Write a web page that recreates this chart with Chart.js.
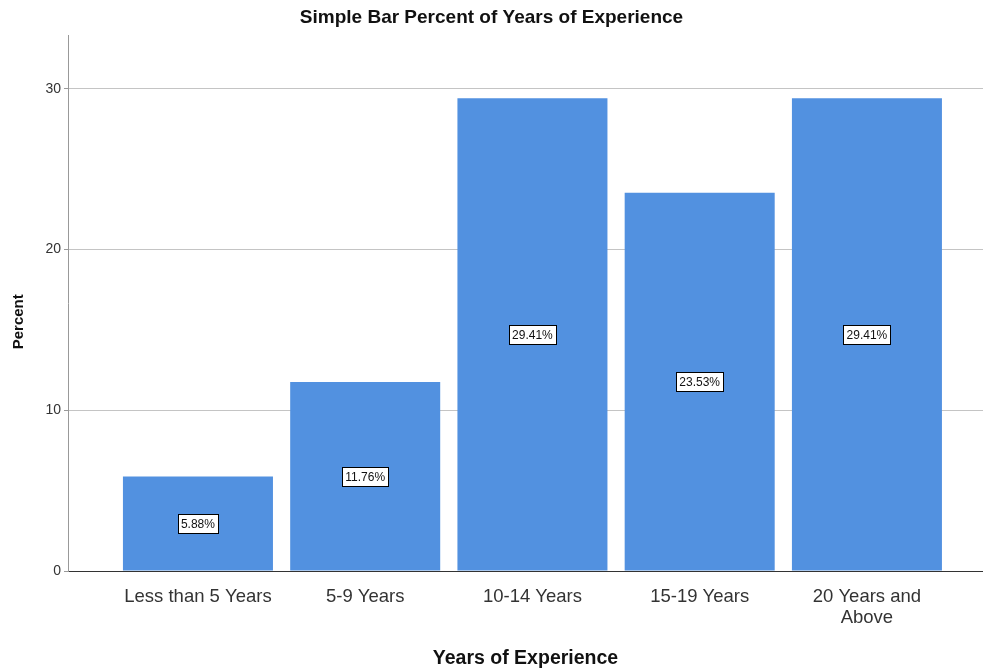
<!DOCTYPE html>
<html>
<head>
<meta charset="utf-8">
<script src="https://cdn.jsdelivr.net/npm/chart.js@4.4.1/dist/chart.umd.min.js"></script>
<style>
  html, body { margin: 0; padding: 0; background: #fff; }
  #wrap { width: 983px; height: 670px; }
</style>
</head>
<body>
<div id="wrap"><canvas id="expChart"></canvas></div>
<script>
"use strict";

var categories = ['Less than 5 Years', '5-9 Years', '10-14 Years', '15-19 Years', ['20 Years and', 'Above']];
var percents = [5.88, 11.76, 29.41, 23.53, 29.41];
var yTicks = [0, 10, 20, 30];

var FONT = "'Liberation Sans', Arial, sans-serif";

// bars sit at x = 1..5 on a linear axis so the axis can run past them
var points = percents.map(function (v, i) {
  return { x: i + 1, y: v };
});

var barLabels = {
  id: 'barLabels',
  afterDatasetsDraw: function (chart) {
    var ctx = chart.ctx;
    var meta = chart.getDatasetMeta(0);
    ctx.save();
    ctx.font = '12px ' + FONT;
    ctx.textAlign = 'center';
    ctx.textBaseline = 'middle';
    meta.data.forEach(function (bar, i) {
      var txt = percents[i].toFixed(2) + '%';
      var cx = bar.x;
      var cy = (bar.y + bar.base) / 2;
      var w = Math.round(ctx.measureText(txt).width + 6);
      var h = 19;
      var bx = Math.round(cx - w / 2) + 0.5;
      var by = Math.round(cy - h / 2) + 0.5;
      ctx.fillStyle = '#fff';
      ctx.fillRect(bx, by, w, h);
      ctx.strokeStyle = '#000';
      ctx.lineWidth = 1;
      ctx.strokeRect(bx, by, w, h);
      ctx.fillStyle = '#111';
      ctx.fillText(txt, cx, cy + 1);
    });
    ctx.restore();
  }
};

var ctx = document.getElementById('expChart').getContext('2d');
var expChart = new Chart(ctx, {
  type: 'bar',
  data: {
    datasets: [{
      data: points,
      backgroundColor: '#5291e0',
      borderWidth: 0,
      categoryPercentage: 1,
      barPercentage: 0.897
    }]
  },
  options: {
    responsive: true,
    maintainAspectRatio: false,
    animation: { duration: 0 },
    layout: { padding: 0 },
    plugins: {
      legend: { display: false },
      tooltip: { enabled: false },
      title: {
        display: true,
        text: 'Simple Bar Percent of Years of Experience',
        color: '#111',
        font: { family: FONT, size: 19, weight: 'bold' },
        padding: { top: 6, bottom: 6.2 }
      }
    },
    scales: {
      x: {
        type: 'linear',
        offset: false,
        min: 0.223,
        max: 5.694,
        afterBuildTicks: function (scale) {
          scale.ticks = categories.map(function (c, i) { return { value: i + 1 }; });
        },
        afterFit: function (scale) { scale.height = 99; },
        grid: { display: false, offset: false },
        border: { display: true, color: '#333', width: 1 },
        ticks: {
          autoSkip: false,
          maxRotation: 0,
          padding: 8,
          color: '#333',
          font: { family: FONT, size: 18.5, lineHeight: 1.1 },
          callback: function (value) { return categories[value - 1]; }
        },
        title: {
          display: true,
          text: 'Years of Experience',
          color: '#111',
          font: { family: FONT, size: 19.5, weight: 'bold' },
          padding: { top: 0, bottom: 0 }
        }
      },
      y: {
        min: 0,
        max: 33.35,
        afterBuildTicks: function (scale) {
          scale.ticks = yTicks.map(function (v) { return { value: v }; });
        },
        afterFit: function (scale) { scale.width = 68; },
        grid: {
          color: function (c) { return c.tick && c.tick.value === 0 ? 'rgba(0,0,0,0)' : '#c4c4c4'; },
          tickColor: '#999',
          tickLength: 4
        },
        border: { display: true, color: '#999', width: 1 },
        ticks: {
          padding: 3,
          color: '#333',
          font: { family: FONT, size: 14 }
        },
        title: {
          display: true,
          // trailing spaces nudge the rotated word down to where SPSS puts it
          text: 'Percent         ',
          color: '#111',
          font: { family: FONT, size: 15, weight: 'bold' },
          padding: { top: 10, bottom: 0 }
        }
      }
    }
  },
  plugins: [barLabels]
});
</script>
</body>
</html>
